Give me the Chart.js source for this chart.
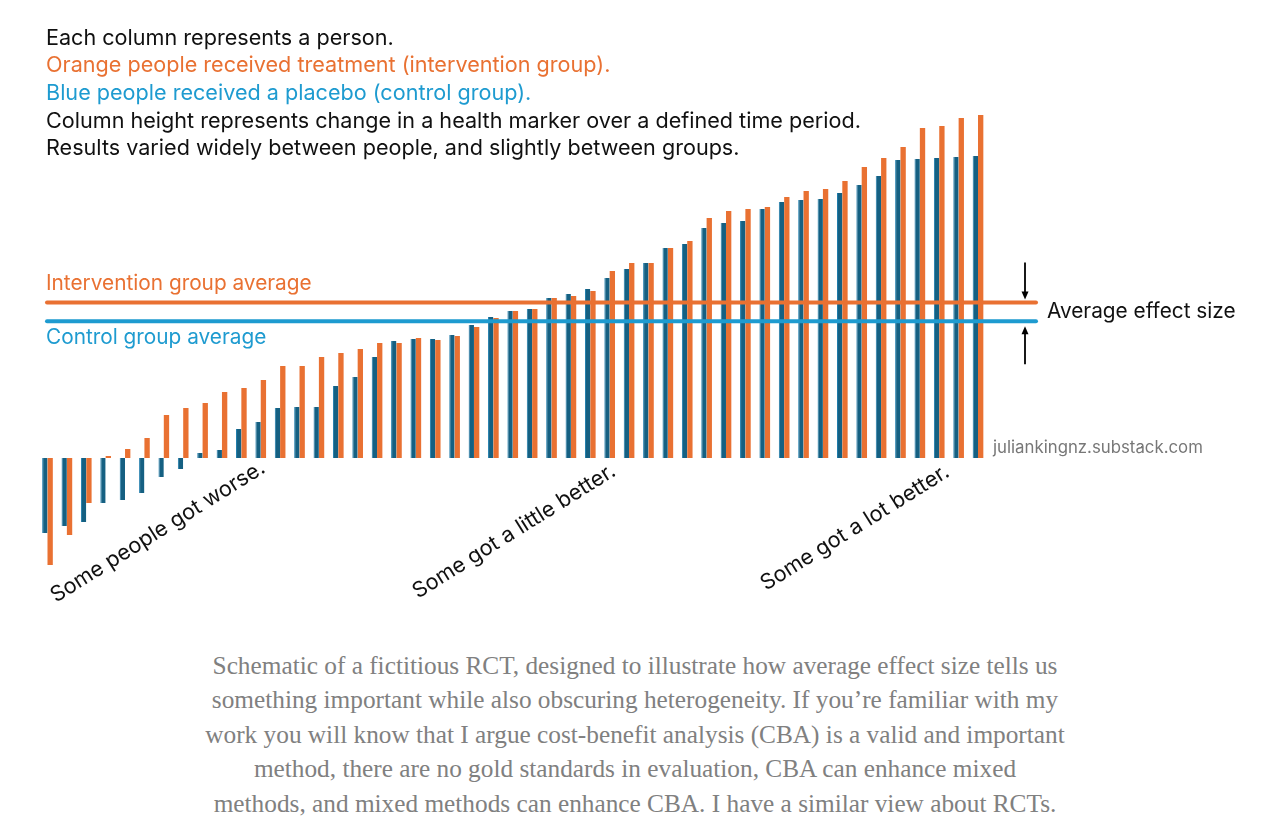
<!DOCTYPE html>
<html>
<head>
<meta charset="utf-8">
<script src="https://cdn.jsdelivr.net/npm/chart.js@4"></script>
<style>
  html, body { margin: 0; padding: 0; background: #fff; }
  body { width: 1270px; height: 838px; position: relative; overflow: hidden; }
  #chart { position: absolute; left: 0; top: 0; }
  .caption {
    position: absolute; left: 0; top: 648px; width: 1270px;
    text-align: center; color: #808080;
    font-family: 'Liberation Serif', serif; font-size: 25.3px; line-height: 34.4px;
  }
</style>
</head>
<body>
<canvas id="chart" width="1270" height="640"></canvas>
<div class="caption">
  Schematic of a fictitious RCT, designed to illustrate how average effect size tells us<br>
  something important while also obscuring heterogeneity. If you’re familiar with my<br>
  work you will know that I argue cost-benefit analysis (CBA) is a valid and important<br>
  method, there are no gold standards in evaluation, CBA can enhance mixed<br>
  methods, and mixed methods can enhance CBA. I have a similar view about RCTs.
</div>
<script>
// une colonne = une personne (49 paires)
const people = Array.from({ length: 49 }, (_, i) => 'P' + (i + 1));

// variation de l'indicateur de santé, groupe contrôle (placebo)
const control = [
  -75, -68, -64, -45, -42, -35, -19, -11, 5, 8,
  29, 36, 50, 51, 51, 72, 81, 101, 117, 119,
  119, 123, 133, 141, 147, 149, 160, 164, 169, 180,
  189, 195, 210, 214, 230, 235, 237, 249, 256, 258,
  259, 265, 273, 282, 298, 299, 300, 301, 302
];

// groupe intervention (traitement)
const intervention = [
  -107, -77, -45, 2, 9, 20, 43, 50, 55, 66,
  70, 78, 92, 92, 101, 105, 109, 115, 115, 120,
  118, 122, 131, 140, 147, 149, 160, 162, 167, 187,
  195, 195, 210, 217, 240, 247, 249, 251, 261, 267,
  269, 277, 291, 300, 311, 330, 332, 340, 343
];

const headerLines = [
  ['Each column represents a person.', '#111'],
  ['Orange people received treatment (intervention group).', '#E97132'],
  ['Blue people received a placebo (control group).', '#1E9BD0'],
  ['Column height represents change in a health marker over a defined time period.', '#111'],
  ['Results varied widely between people, and slightly between groups.', '#111']
];

const notes = ['Some people got worse.', 'Some got a little better.', 'Some got a lot better.'];

const mean = arr => arr.reduce((a, b) => a + b, 0) / arr.length;
const avgIntervention = mean(intervention);
const avgControl = mean(control);

const ORANGE = '#E97132';
const DARKBLUE = '#156082';
const LIGHTBLUE = '#1E9BD0';
const FONT = 'Inter, "Noto Sans", sans-serif';

function arrow(ctx, x, y1, y2) {
  // trait de y1 vers la pointe y2
  const dir = y2 > y1 ? 1 : -1;
  ctx.beginPath();
  ctx.moveTo(x, y1);
  ctx.lineTo(x, y2 - dir * 6);
  ctx.stroke();
  ctx.beginPath();
  ctx.moveTo(x, y2);
  ctx.lineTo(x - 3.5, y2 - dir * 8);
  ctx.lineTo(x + 3.5, y2 - dir * 8);
  ctx.closePath();
  ctx.fill();
}

const annotations = {
  id: 'annotations',
  afterDatasetsDraw(chart) {
    const ctx = chart.ctx;
    const y = chart.scales.y;
    ctx.save();

    // lignes des moyennes
    ctx.lineCap = 'round';
    ctx.lineWidth = 4;
    const yi = y.getPixelForValue(avgIntervention);
    const yc = y.getPixelForValue(avgControl);
    ctx.strokeStyle = ORANGE;
    ctx.beginPath(); ctx.moveTo(47, yi); ctx.lineTo(1036, yi); ctx.stroke();
    ctx.strokeStyle = LIGHTBLUE;
    ctx.beginPath(); ctx.moveTo(47, yc); ctx.lineTo(1036, yc); ctx.stroke();

    // flèches
    ctx.lineCap = 'butt';
    ctx.lineWidth = 1.8;
    ctx.strokeStyle = '#000';
    ctx.fillStyle = '#000';
    arrow(ctx, 1025, yi - 40, yi - 3);
    arrow(ctx, 1025, yc + 43, yc + 5);

    ctx.textBaseline = 'middle';
    ctx.textAlign = 'left';
    ctx.font = '20.8px ' + FONT;
    ctx.fillStyle = '#111';
    ctx.fillText('Average effect size', 1047, (yi + yc) / 2);

    ctx.fillStyle = ORANGE;
    ctx.fillText('Intervention group average', 46, yi - 19);
    ctx.fillStyle = LIGHTBLUE;
    ctx.fillText('Control group average', 46, yc + 16);

    // texte d'en-tête
    ctx.font = '21.6px ' + FONT;
    headerLines.forEach(([txt, col], i) => {
      ctx.fillStyle = col;
      ctx.fillText(txt, 46, 38 + i * 27.7);
    });

    ctx.font = '16.8px ' + FONT;
    ctx.fillStyle = '#777';
    ctx.fillText('juliankingnz.substack.com', 993, 448);

    // libellés inclinés
    ctx.font = '21.6px ' + FONT;
    ctx.fillStyle = '#111';
    ctx.textBaseline = 'alphabetic';
    [[56, 603], [418, 599], [766, 591]].forEach(([x, yy], i) => {
      ctx.save();
      ctx.translate(x, yy);
      ctx.rotate(-32 * Math.PI / 180);
      ctx.fillText(notes[i], 0, 0);
      ctx.restore();
    });

    ctx.restore();
  }
};

new Chart(document.getElementById('chart'), {
  type: 'bar',
  data: {
    labels: people,
    datasets: [
      {
        label: 'Control',
        data: control,
        backgroundColor: DARKBLUE,
        borderColor: '#1f7cab',
        borderWidth: { left: 1 },
        categoryPercentage: 0.55,
        barPercentage: 1
      },
      {
        label: 'Intervention',
        data: intervention,
        backgroundColor: ORANGE,
        categoryPercentage: 0.55,
        barPercentage: 1
      }
    ]
  },
  options: {
    responsive: false,
    animation: false,
    devicePixelRatio: 1,
    layout: { padding: { left: 37.8, right: 282.3, top: 0, bottom: 0 } },
    plugins: { legend: { display: false }, tooltip: { enabled: false } },
    scales: {
      x: { display: false, grid: { display: false } },
      y: { display: false, min: -182, max: 458, grid: { display: false } }
    }
  },
  plugins: [annotations]
});
</script>
</body>
</html>
